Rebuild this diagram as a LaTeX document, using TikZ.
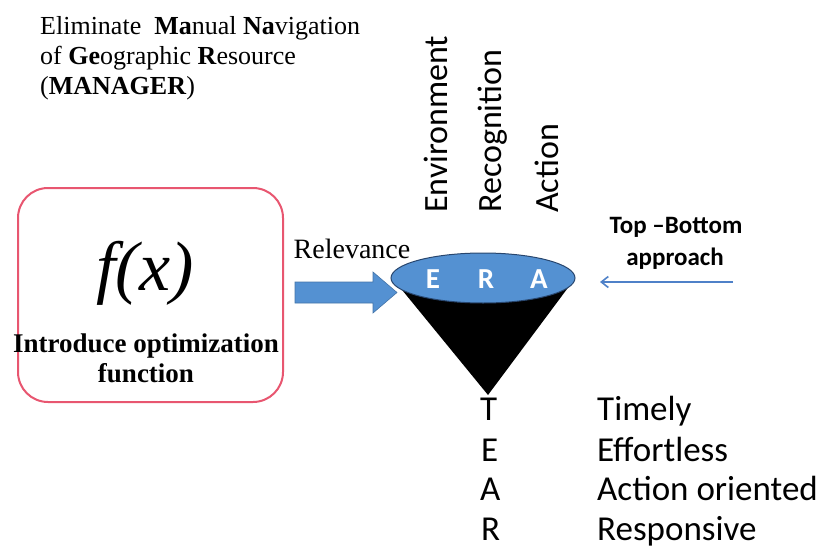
\documentclass[tikz,border=0pt]{standalone}
\usepackage{fontspec}
\setmainfont{Liberation Serif}
\newfontfamily\carl{Carlito}
\usetikzlibrary{shapes.geometric,arrows.meta}
\definecolor{eraBlue}{RGB}{84,145,210}
\definecolor{eraEdge}{RGB}{40,70,110}
\definecolor{boxRed}{RGB}{232,86,112}
\definecolor{lineBlue}{RGB}{79,129,200}

\begin{document}
\begin{tikzpicture}[x=1pt,y=-1pt,
  titletext/.style={anchor=base west,inner sep=0pt,font=\fontsize{26}{30}\selectfont},
  vlabel/.style={rotate=90,anchor=base west,inner sep=0pt,font=\carl\fontsize{34}{40}\selectfont},
  eraletter/.style={inner sep=0pt,text=white,font=\carl\bfseries\fontsize{29}{30}\selectfont},
  tearletter/.style={anchor=base west,inner sep=0pt,font=\carl\fontsize{35}{40}\selectfont},
  approach/.style={anchor=base,inner sep=0pt,font=\carl\bfseries\fontsize{25}{28}\selectfont}]
\useasboundingbox (0,0) rectangle (824,551);

% heading
\node[titletext] (t1) at (40,35) {Eliminate\ \ \textbf{Ma}nual \textbf{Na}vigation};
\node[titletext] (t2) at (40,65) {of \textbf{Ge}ographic \textbf{R}esource};
\node[titletext] (t3) at (40,94) {(\textbf{MANAGER})};

% optimization function box
\node[draw=boxRed,line width=2pt,rounded corners=30pt,minimum width=265pt,
      minimum height=214pt] (fbox) at (150.5,295) {};
\node[anchor=base,inner sep=0pt,font=\itshape\fontsize{70}{70}\selectfont] (fx) at (145,290) {f(x)};
\node[anchor=base,inner sep=0pt,font=\bfseries\fontsize{27}{30}\selectfont] (in1) at (146,352) {Introduce optimization};
\node[anchor=base,inner sep=0pt,font=\bfseries\fontsize{27}{30}\selectfont] (in2) at (146,382) {function};

% relevance arrow
\node[anchor=base,inner sep=0pt,font=\fontsize{28}{30}\selectfont] (rel) at (352,258) {Relevance};
\fill[eraBlue,draw=eraBlue!80!black,line width=0.6pt]
  (295,282) -- (373,282) -- (373,272) -- (397,292.5) -- (373,313) -- (373,303) -- (295,303) -- cycle;

% ERA cone
\fill[black] (398,285) -- (570,285) -- (488,395) -- cycle;
\node[ellipse,draw=eraEdge,line width=1pt,fill=eraBlue,minimum width=184pt,
      minimum height=50pt,inner sep=0pt] (era) at (483,278) {};
\node[eraletter] (le) at (433,279) {E};
\node[eraletter] (lr) at (486,279) {R};
\node[eraletter] (la) at (539,279) {A};

% vertical labels
\node[vlabel] (env) at (447,213) {Environment};
\node[vlabel] (rec) at (501,213) {Recognition};
\node[vlabel] (act) at (558,213) {Action};

% top-bottom approach
\node[approach] (tb1) at (676,233) {Top –Bottom};
\node[approach] (tb2) at (675,265) {approach};
\coordinate (tbs) at (733,282);
\coordinate (tbe) at (600,282);
\draw[lineBlue,line width=1.6pt,-{Straight Barb[length=7pt,width=11pt]}] (tbs) -- (tbe);

% TEAR list
\node[tearletter] (tt) at (480,420) {T};
\node[tearletter] (te) at (481,461) {E};
\node[tearletter] (ta) at (480,500) {A};
\node[tearletter] (tr) at (481,540) {R};
\node[tearletter] (wt) at (597,420) {Timely};
\node[tearletter] (we) at (597,461) {Effortless};
\node[tearletter] (wa) at (597,500) {Action oriented};
\node[tearletter] (wr) at (597,540) {Responsive};
\end{tikzpicture}
\end{document}
